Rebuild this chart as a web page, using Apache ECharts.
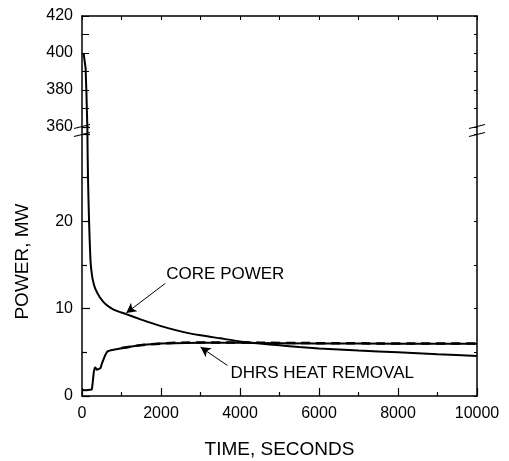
<!DOCTYPE html>
<html>
<head>
<meta charset="utf-8">
<script src="https://cdn.jsdelivr.net/npm/echarts@6/dist/echarts.min.js"></script>
<style>
  html, body { margin: 0; padding: 0; background: #fff; }
  #chart { width: 509px; height: 461px; }
</style>
</head>
<body>
<div id="chart"></div>
<script>
// core power, MW vs time, s
const coreTime = [40, 90, 110, 125, 134, 136, 152, 177, 218, 260, 300, 344, 450, 600, 800, 1100, 1500, 2000, 2500, 3000, 3500, 4000, 4500, 5000, 5500, 6000, 7000, 8000, 9000, 10000];
const corePower = [400, 392, 380, 368, 361, 30.5, 25, 20.3, 15.3, 13.6, 12.8, 12.2, 11.3, 10.5, 9.9, 9.4, 8.75, 8.0, 7.4, 6.95, 6.6, 6.25, 6.0, 5.8, 5.6, 5.45, 5.2, 5.0, 4.78, 4.58];

// DHRS heat removal
const dhrsTime = [0, 100, 250, 270, 300, 330, 380, 420, 470, 510, 580, 640, 700, 970, 1480, 1980, 3000, 4000, 5000, 6000, 7000, 8000, 9000, 10000];
const dhrsPower = [0.7, 0.65, 0.75, 1.5, 2.8, 3.3, 3.0, 2.8, 3.2, 3.8, 4.6, 5.1, 5.2, 5.45, 5.85, 6.0, 6.1, 6.1, 6.05, 6.0, 6.0, 5.98, 5.97, 5.97];

// dashed curve lying on top of the DHRS line
const dashTime = [1000, 2000, 3000, 4000, 5000, 6000, 7000, 8000, 9000, 10000];
const dashPower = [5.5, 6.0, 6.12, 6.12, 6.08, 6.05, 6.03, 6.02, 6.02, 6.02];

const upperLabels = [360, 380, 400, 420];
const lowerLabels = [0, 10, 20];

const gridLeft = 82, gridWidth = 395, topY = 16, breakY = 127, bottomY = 396;
const font = 'Liberation Sans, Arial, sans-serif';

function pairs(xs, ys) {
  return xs.map((x, i) => [x, ys[i]]);
}

let myChart = echarts.init(document.getElementById('chart'));

// break marks "//" on both vertical axes
let breakMarks = [];
[gridLeft, gridLeft + gridWidth].forEach((x0) => {
  [breakY - 0.5, breakY + 7.5].forEach((yc) => {
    breakMarks.push({
      type: 'line',
      shape: { x1: x0 - 8, y1: yc + 2, x2: x0 + 8, y2: yc - 2 },
      style: { stroke: '#000', lineWidth: 1.2 },
      z: 10,
    });
  });
});

const axisLine = { show: true, lineStyle: { color: '#000', width: 1.5 } };
const labelStyle = { color: '#000', fontSize: 16, fontFamily: font };
const plain = (v) => String(v);

var option = {
  animation: false,
  backgroundColor: '#fff',
  graphic: breakMarks,
  grid: [
    { left: gridLeft, width: gridWidth, top: topY, height: breakY - topY, outerBoundsMode: 'none', containLabel: false },
    { left: gridLeft, width: gridWidth, top: breakY, height: bottomY - breakY, outerBoundsMode: 'none', containLabel: false },
  ],
  xAxis: [
    {
      gridIndex: 0,
      type: 'value',
      position: 'top',
      min: 0,
      max: 10000,
      interval: 1000,
      axisLine: axisLine,
      axisTick: { inside: true, length: 4, lineStyle: { color: '#000' } },
      axisLabel: { show: false },
      splitLine: { show: false },
    },
    {
      gridIndex: 1,
      type: 'value',
      position: 'bottom',
      min: 0,
      max: 10000,
      interval: 2000,
      axisLine: axisLine,
      axisTick: { inside: true, length: 8, lineStyle: { color: '#000', width: 1.2 } },
      minorTick: { show: true, splitNumber: 2, length: 4, lineStyle: { color: '#000', width: 1.2 } },
      axisLabel: Object.assign({ margin: 10, formatter: plain }, labelStyle),
      splitLine: { show: false },
      name: 'TIME, SECONDS',
      nameLocation: 'middle',
      nameGap: 44,
      nameTextStyle: { color: '#000', fontSize: 19, fontFamily: font },
    },
  ],
  yAxis: [
    {
      gridIndex: 0,
      type: 'value',
      min: 360,
      max: 420,
      interval: 10,
      axisLine: axisLine,
      axisTick: { inside: true, length: 7, lineStyle: { color: '#000' } },
      axisLabel: Object.assign({ margin: 9, customValues: upperLabels, formatter: plain }, labelStyle),
      splitLine: { show: false },
    },
    {
      gridIndex: 0,
      type: 'value',
      position: 'right',
      min: 360,
      max: 420,
      interval: 10,
      axisLine: axisLine,
      axisTick: { inside: true, length: 3, lineStyle: { color: '#000' } },
      axisLabel: { show: false },
      splitLine: { show: false },
    },
    {
      gridIndex: 1,
      type: 'value',
      min: 0,
      max: 30.8,
      interval: 10,
      axisLine: axisLine,
      axisTick: { inside: true, length: 8, lineStyle: { color: '#000', width: 1.2 } },
      minorTick: { show: true, splitNumber: 2, length: 5, lineStyle: { color: '#000', width: 1.2 } },
      axisLabel: Object.assign({ margin: 9, customValues: lowerLabels, formatter: plain }, labelStyle),
      splitLine: { show: false },
      minorSplitLine: { show: false },
      name: 'POWER, MW',
      nameLocation: 'middle',
      nameGap: 50,
      nameTextStyle: { color: '#000', fontSize: 19, fontFamily: font },
    },
    {
      gridIndex: 1,
      type: 'value',
      position: 'right',
      min: 0,
      max: 30.8,
      interval: 5,
      axisLine: axisLine,
      axisTick: { inside: true, length: 3, lineStyle: { color: '#000' } },
      axisLabel: { show: false },
      splitLine: { show: false },
    },
  ],
  series: [
    {
      name: 'core-upper',
      type: 'line',
      xAxisIndex: 0,
      yAxisIndex: 0,
      data: pairs(coreTime, corePower),
      symbol: 'none',
      clip: true,
      lineStyle: { color: '#000', width: 2 },
    },
    {
      name: 'core',
      type: 'line',
      xAxisIndex: 1,
      yAxisIndex: 2,
      data: pairs(coreTime, corePower),
      symbol: 'none',
      smooth: 0.2,
      clip: true,
      lineStyle: { color: '#000', width: 2 },
      markLine: {
        silent: true,
        symbol: ['none', 'arrow'],
        symbolSize: [8, 10],
        lineStyle: { color: '#000', width: 1, type: 'solid' },
        label: { show: false },
        data: [
          [{ coord: [2110, 12.9] }, { coord: [1120, 9.5] }],
          [{ coord: [3680, 3.5] }, { coord: [3000, 5.6] }],
        ],
      },
      markPoint: {
        silent: true,
        symbol: 'circle',
        symbolSize: 0,
        label: {
          show: true,
          position: 'right',
          distance: 0,
          color: '#000',
          fontSize: 17,
          fontFamily: font,
          formatter: (p) => p.name,
        },
        data: [
          { name: 'CORE POWER', coord: [2134, 13.9] },
          { name: 'DHRS HEAT REMOVAL', coord: [3757, 2.6] },
        ],
      },
    },
    {
      name: 'dhrs',
      type: 'line',
      xAxisIndex: 1,
      yAxisIndex: 2,
      data: pairs(dhrsTime, dhrsPower),
      symbol: 'none',
      lineStyle: { color: '#000', width: 2 },
    },
    {
      name: 'dhrs-dash',
      type: 'line',
      xAxisIndex: 1,
      yAxisIndex: 2,
      data: pairs(dashTime, dashPower),
      symbol: 'none',
      smooth: true,
      lineStyle: { color: '#000', width: 2.5, type: [9, 6] },
    },
  ],
};
option && myChart.setOption(option);
window.addEventListener('resize', () => {
  myChart.resize();
});
</script>
</body>
</html>
